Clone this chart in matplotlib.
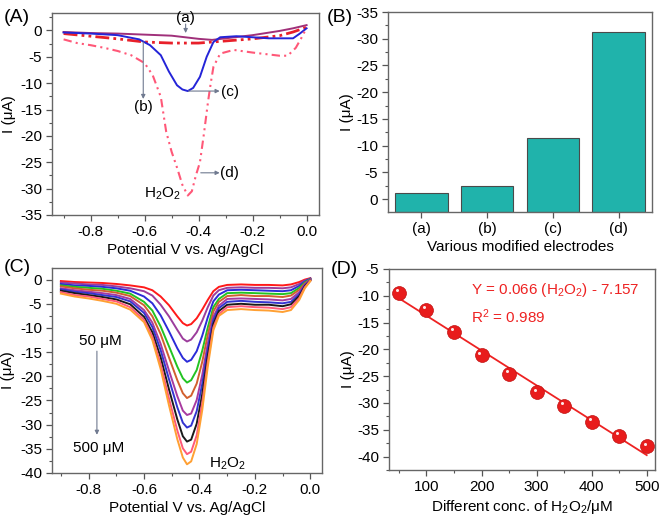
import numpy as np
import matplotlib
matplotlib.use("Agg")
import matplotlib.pyplot as plt
import matplotlib.transforms as mtransforms
from matplotlib.ticker import MultipleLocator

plt.rcParams['font.family'] = ['Liberation Sans', 'DejaVu Sans']
plt.rcParams['mathtext.fontset'] = 'custom'
plt.rcParams['mathtext.rm'] = 'Liberation Sans'
plt.rcParams['mathtext.it'] = 'Liberation Sans:italic'
plt.rcParams['font.size'] = 11
plt.rcParams['axes.unicode_minus'] = False

# ---------------- (A) DPV of the four electrodes ----------------
a_x = [-0.90, -0.80, -0.70, -0.60, -0.50, -0.45, -0.40, -0.35, -0.30, -0.25, -0.20, -0.15, -0.10, -0.05, 0.0]
a_y = [-0.3, -0.5, -0.6, -0.8, -1.0, -1.3, -1.6, -1.8, -1.5, -1.2, -0.9, -0.5, -0.1, 0.4, 1.0]

b_x = [-0.90, -0.80, -0.70, -0.60, -0.50, -0.40, -0.35, -0.30, -0.20, -0.10, -0.05, 0.0]
b_y = [-0.6, -1.1, -1.6, -2.2, -2.4, -2.4, -2.2, -2.0, -1.6, -1.0, -0.3, 0.6]

c_x = [-0.90, -0.80, -0.70, -0.62, -0.58, -0.54, -0.51, -0.48, -0.46, -0.44, -0.42, -0.395,
       -0.37, -0.345, -0.32, -0.26, -0.20, -0.14, -0.05, -0.025, 0.0]
c_y = [-0.4, -0.6, -0.9, -1.7, -2.8, -4.7, -7.8, -10.4, -11.2, -11.5, -10.9, -8.8,
       -5.0, -2.2, -1.3, -1.1, -1.3, -1.5, -1.5, -0.6, 0.4]

d_x = [-0.90, -0.85, -0.80, -0.75, -0.70, -0.65, -0.60, -0.57, -0.54, -0.52, -0.50, -0.48,
       -0.46, -0.44, -0.425, -0.41, -0.395, -0.38, -0.365, -0.355, -0.345, -0.32, -0.27,
       -0.20, -0.15, -0.10, -0.07, -0.04, -0.02, 0.0]
d_y = [-1.7, -2.4, -2.8, -3.3, -3.9, -4.7, -6.2, -8.5, -12.6, -19.2, -23.0, -26.0,
       -29.3, -31.3, -30.5, -27.5, -25.0, -19.5, -13.5, -10.0, -6.9, -4.4, -3.7,
       -4.2, -4.5, -4.8, -4.8, -3.3, -1.5, 0.5]

# ---------------- (B) peak currents ----------------
electrodes = ['(a)', '(b)', '(c)', '(d)']
peak_current = [-1.2, -2.4, -11.4, -31.3]

# ---------------- (C) DPV at increasing H2O2 ----------------
pot = [-0.90, -0.85, -0.80, -0.75, -0.70, -0.65, -0.60, -0.57, -0.54, -0.51, -0.48, -0.46,
       -0.445, -0.43, -0.41, -0.39, -0.37, -0.35, -0.33, -0.30, -0.25, -0.20, -0.15, -0.10,
       -0.07, -0.04, -0.02, 0.0]
i_50 = [-0.3, -0.5, -0.6, -0.7, -0.9, -1.2, -1.6, -2.2, -3.5, -5.3, -7.6, -9.0,
        -9.5, -9.2, -8.0, -6.2, -4.2, -2.4, -1.5, -1.1, -1.0, -1.1, -1.1, -1.2, -1.0, -0.5, 0.0, 0.3]
i_100 = [-0.6, -0.8, -1.0, -1.1, -1.4, -1.8, -2.4, -3.3, -5.2, -7.6, -10.4, -12.2,
         -12.8, -12.4, -10.9, -8.5, -5.7, -3.3, -2.2, -1.7, -1.6, -1.7, -1.7, -1.8, -1.6, -0.9, -0.2, 0.2]
i_150 = [-0.9, -1.2, -1.3, -1.5, -1.8, -2.3, -3.5, -4.9, -7.4, -10.7, -14.2, -16.2,
         -17.0, -16.6, -14.8, -11.6, -7.8, -4.5, -3.1, -2.2, -2.1, -2.2, -2.3, -2.4, -2.2, -1.3, -0.4, 0.2]
i_200 = [-1.2, -1.5, -1.7, -1.9, -2.3, -2.9, -4.6, -6.4, -9.7, -13.8, -18.0, -20.4,
         -21.3, -20.8, -18.7, -14.7, -9.9, -5.7, -4.0, -2.8, -2.7, -2.8, -2.9, -3.0, -2.8, -1.7, -0.6, 0.1]
i_250 = [-1.4, -1.8, -2.1, -2.3, -2.7, -3.4, -5.3, -7.6, -11.3, -16.1, -20.8, -23.5,
         -24.5, -24.0, -21.5, -17.0, -11.4, -6.6, -4.6, -3.4, -3.2, -3.4, -3.4, -3.6, -3.3, -2.1, -0.8, 0.0]
i_300 = [-1.8, -2.2, -2.5, -2.8, -3.2, -4.0, -6.3, -8.9, -13.3, -18.8, -24.1, -27.1,
         -28.0, -27.7, -24.9, -19.7, -13.2, -7.7, -5.4, -4.0, -3.9, -4.0, -4.1, -4.3, -4.0, -2.6, -1.0, 0.0]
i_350 = [-2.0, -2.5, -2.8, -3.2, -3.6, -4.5, -6.9, -9.8, -14.6, -20.6, -26.4, -29.6,
         -30.6, -30.2, -27.2, -21.6, -14.4, -8.4, -5.9, -4.6, -4.4, -4.6, -4.7, -4.9, -4.6, -3.0, -1.2, -0.1]
i_400 = [-2.3, -2.8, -3.2, -3.6, -4.1, -5.1, -7.7, -10.9, -16.1, -22.7, -28.9, -32.4,
         -33.5, -33.1, -29.8, -23.7, -15.8, -9.2, -6.5, -5.2, -5.0, -5.2, -5.2, -5.5, -5.1, -3.4, -1.4, -0.2]
i_450 = [-2.6, -3.2, -3.5, -4.0, -4.5, -5.7, -8.3, -11.8, -17.5, -24.6, -31.2, -34.9,
         -36.1, -35.6, -32.2, -25.5, -17.0, -9.9, -7.1, -5.7, -5.5, -5.7, -5.8, -6.1, -5.7, -3.8, -1.6, -0.2]
i_500 = [-2.9, -3.5, -3.9, -4.4, -5.0, -6.2, -8.8, -12.5, -18.5, -26.0, -33.0, -36.8,
         -38.2, -37.6, -34.0, -27.0, -18.0, -10.5, -7.5, -6.3, -6.1, -6.3, -6.4, -6.7, -6.3, -4.2, -1.8, -0.3]
c_curves = [i_50, i_100, i_150, i_200, i_250, i_300, i_350, i_400, i_450, i_500]
c_colors = ['#ff1a1a', '#9c3d9c', '#2b2bd8', '#22c322', '#d2602e',
            '#a83aa0', '#3434d0', '#1a1a1a', '#ff5a78', '#ffa033']

# ---------------- (D) calibration ----------------
conc = [50, 100, 150, 200, 250, 300, 350, 400, 450, 500]
peak_i = [-9.5, -12.7, -16.8, -21.1, -24.5, -28.0, -30.6, -33.5, -36.1, -38.1]

W, H = 661, 517
fig = plt.figure(figsize=(W / 100, H / 100), dpi=100)


def px_axes(l, t, r, b):
    return fig.add_axes([l / W, 1 - b / H, (r - l) / W, (b - t) / H])


def style(ax):
    for s in ['top', 'right', 'left', 'bottom']:
        ax.spines[s].set_color('#666666')
        ax.spines[s].set_linewidth(1.0)
    ax.tick_params(which='both', direction='out', top=False, right=False,
                   colors='#555555', labelcolor='black', labelsize=11)
    ax.tick_params(which='major', length=4, width=0.9, pad=3)
    ax.tick_params(which='minor', length=2, width=0.8)


arrow_kw = dict(arrowstyle='-|>', color='#707a90', lw=0.8, mutation_scale=6,
                shrinkA=0, shrinkB=0)

# ---- A ----
axA = px_axes(52, 13, 319, 215)
axA.plot(a_x, a_y, color='#a0307a', lw=1.4)
axA.plot(b_x, b_y, color='#e8202a', lw=2.0, dashes=(5, 1.5, 1, 1.5, 1, 1.5))
axA.plot(c_x, c_y, color='#2424d8', lw=1.4)
axA.plot(d_x, d_y, color='#ff5878', lw=1.5, dashes=(4, 2, 1, 2, 1, 2))
axA.set_xlim(-0.943, 0.046)
axA.set_ylim(-35, 3.3)
axA.xaxis.set_major_locator(MultipleLocator(0.2))
axA.xaxis.set_minor_locator(MultipleLocator(0.1))
axA.yaxis.set_major_locator(MultipleLocator(5))
axA.yaxis.set_minor_locator(MultipleLocator(2.5))
axA.xaxis.set_major_formatter(plt.FuncFormatter(lambda v, p: f"{v:.1f}"))
axA.set_xlabel('Potential V vs. Ag/AgCl', labelpad=3)
axA.set_ylabel('I (μA)')
axA.yaxis.set_label_coords(-0.135, 0.5)
style(axA)
axA.annotate('', xy=(-0.448, -0.5), xytext=(-0.448, 1.2), arrowprops=arrow_kw)
axA.text(-0.448, 2.3, '(a)', ha='center', va='center')
axA.annotate('', xy=(-0.605, -13.0), xytext=(-0.605, -2.2), arrowprops=arrow_kw)
axA.text(-0.605, -14.6, '(b)', ha='center', va='center')
axA.annotate('', xy=(-0.322, -11.5), xytext=(-0.438, -11.5), arrowprops=arrow_kw)
axA.text(-0.285, -11.6, '(c)', ha='center', va='center')
axA.annotate('', xy=(-0.322, -27.0), xytext=(-0.392, -27.0), arrowprops=arrow_kw)
axA.text(-0.285, -27.1, '(d)', ha='center', va='center')
axA.text(-0.533, -30.9, 'H$_2$O$_2$', ha='center', va='center')

# ---- B ----
axB = px_axes(388, 12, 652, 212)
base = 2.4
pos = np.arange(1, len(electrodes) + 1)
axB.bar(pos, np.array(peak_current) - base, bottom=base, width=0.8,
        color='#20b3ab', edgecolor='#4a4a4a', linewidth=0.8)
axB.set_xlim(0.49, 4.51)
axB.set_ylim(base, -35)
axB.set_xticks(pos)
axB.set_xticklabels(electrodes)
axB.yaxis.set_major_locator(MultipleLocator(5))
axB.yaxis.set_minor_locator(MultipleLocator(2.5))
axB.set_xlabel('Various modified electrodes', labelpad=3)
axB.set_ylabel('I (μA)')
axB.yaxis.set_label_coords(-0.13, 0.5)
style(axB)

# ---- C ----
axC = px_axes(52, 268, 322, 473)
for cur, col in zip(c_curves, c_colors):
    axC.plot(pot, cur, color=col, lw=1.4)
axC.set_xlim(-0.932, 0.042)
axC.set_ylim(-40, 2.4)
axC.xaxis.set_major_locator(MultipleLocator(0.2))
axC.xaxis.set_minor_locator(MultipleLocator(0.1))
axC.yaxis.set_major_locator(MultipleLocator(5))
axC.yaxis.set_minor_locator(MultipleLocator(2.5))
axC.xaxis.set_major_formatter(plt.FuncFormatter(lambda v, p: f"{v:.1f}"))
axC.set_xlabel('Potential V vs. Ag/AgCl', labelpad=3)
axC.set_ylabel('I (μA)')
axC.yaxis.set_label_coords(-0.136, 0.5)
style(axC)
axC.text(-0.758, -12.8, '50 μM', ha='center', va='center')
axC.annotate('', xy=(-0.77, -32.1), xytext=(-0.77, -14.8), arrowprops=arrow_kw)
axC.text(-0.764, -34.8, '500 μM', ha='center', va='center')
axC.text(-0.30, -38.2, 'H$_2$O$_2$', ha='center', va='center')

# ---- D ----
axD = px_axes(389, 269, 655, 470)
slope, icpt = np.polyfit(conc, peak_i, 1)
fx = np.array([conc[0], conc[-1]])
axD.plot(fx, slope * fx + icpt, color='#ee2222', lw=1.3)
axD.plot(conc, peak_i, 'o', color='#e81c1c', markersize=10, markeredgecolor='#c01010',
         markeredgewidth=0.5)
hl = mtransforms.offset_copy(axD.transData, fig=fig, x=-1.5, y=2, units='points')
axD.plot(conc, peak_i, 'o', color='white', markersize=2.2, alpha=0.9,
         markeredgewidth=0, transform=hl)
axD.set_xlim(32, 515)
axD.set_ylim(-42.5, -5)
axD.xaxis.set_major_locator(MultipleLocator(100))
axD.xaxis.set_minor_locator(MultipleLocator(50))
axD.yaxis.set_major_locator(MultipleLocator(5))
axD.yaxis.set_minor_locator(MultipleLocator(2.5))
axD.set_xlabel('Different conc. of H$_2$O$_2$/μM', labelpad=3)
axD.set_ylabel('I (μA)')
axD.yaxis.set_label_coords(-0.129, 0.5)
style(axD)
axD.text(181, -8.9, 'Y = 0.066 (H$_2$O$_2$) - 7.157', color='#ee2222', ha='left', va='center')
axD.text(181, -13.9, 'R$^2$ = 0.989', color='#ee2222', ha='left', va='center')

# panel labels
for lab, x, y in [('(A)', 17, 17), ('(B)', 340, 17), ('(C)', 17, 268), ('(D)', 344, 270)]:
    fig.text(x / W, 1 - y / H, lab, fontsize=14, ha='center', va='center')

fig.savefig('out.png', dpi=100)
